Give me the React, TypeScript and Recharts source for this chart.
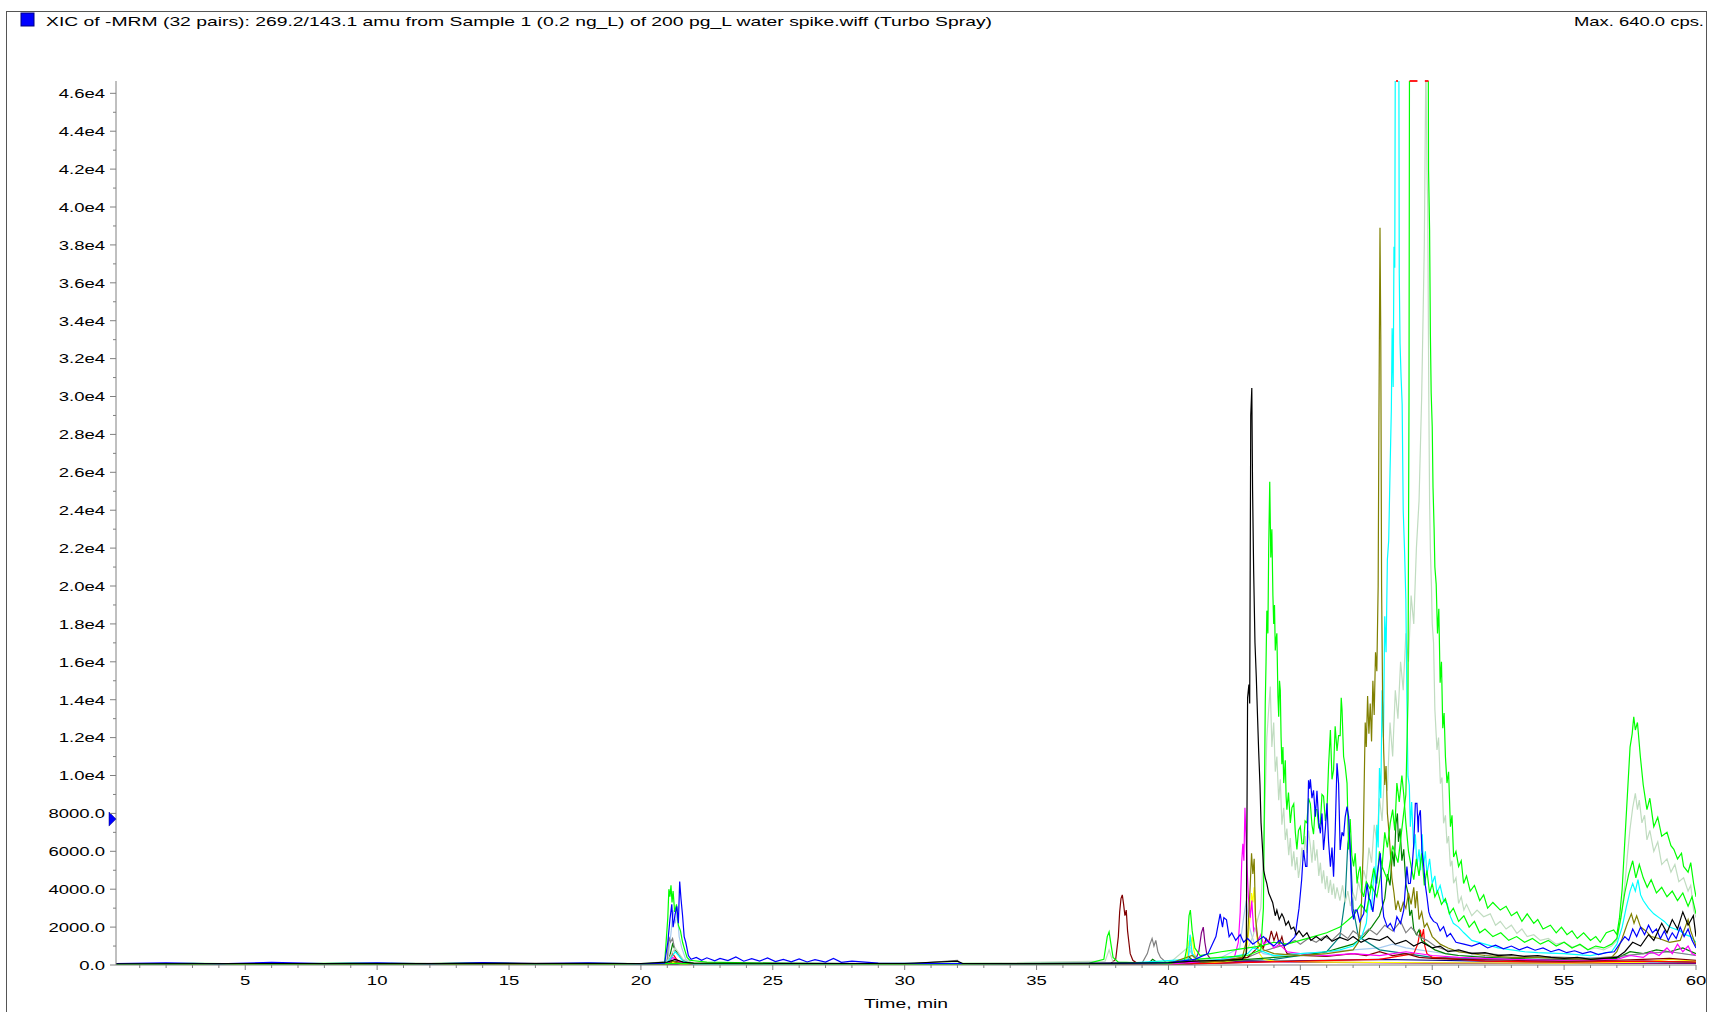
import { LineChart, Line, XAxis, YAxis, ReferenceDot, ReferenceLine } from "recharts";

type Pt = [number, number];

// XIC traces, [time (min), intensity (cps)]
const black: Pt[] = [[0.1,60],[5,80],[10,70],[15,90],[20,80],[21,150],[21.3,300],[21.6,150],[22,100],[25,90],[30,80],[32,200],[32.2,80],[35,70],[38,100],[40,120],[41,200],[42,250],[42.8,300],[42.95,600],[43.0,14100],[43.05,14800],[43.08,13800],[43.12,29000],[43.16,30450],[43.19,25000],[43.23,20800],[43.28,17000],[43.33,15200],[43.38,13000],[43.42,11300],[43.47,9500],[43.51,7500],[43.56,6300],[43.61,5000],[43.67,4600],[43.73,4300],[43.8,3800],[43.86,3600],[43.95,3300],[44.05,2600],[44.11,2900],[44.2,2400],[44.3,2700],[44.37,2500],[44.45,2100],[44.55,2300],[44.65,1900],[44.75,2000],[44.85,1600],[44.95,1800],[45.1,1500],[45.25,1700],[45.4,1300],[45.6,1500],[45.8,1300],[46,1550],[46.2,1250],[46.5,1450],[46.8,1300],[47,1500],[47.3,1200],[47.6,1400],[48,1300],[48.3,1500],[48.6,1100],[49,1300],[49.3,1000],[49.6,1200],[50,900],[50.3,1000],[50.6,700],[51,800],[51.5,600],[52,650],[52.5,500],[53,550],[53.5,450],[54,500],[54.5,400],[55,350],[55.5,400],[56,300],[56.5,350],[57,400],[57.3,700],[57.6,1200],[57.9,1000],[58.2,1600],[58.4,1300],[58.7,2200],[58.9,1700],[59.1,2400],[59.3,1900],[59.5,2800],[59.7,2100],[59.9,2600],[60,1500]];

const greenA: Pt[] = [[0.1,40],[3,90],[6,60],[9,100],[12,70],[14,120],[16,60],[18,90],[20,70],[20.9,100],[21.02,2500],[21.06,4000],[21.1,3600],[21.14,4200],[21.18,3300],[21.22,3900],[21.28,2800],[21.35,3200],[21.42,2100],[21.5,1800],[21.58,1200],[21.66,800],[21.75,400],[21.85,250],[22.5,150],[25,100],[28,80],[31,90],[34,70],[37,100],[37.55,300],[37.68,1500],[37.75,1750],[37.82,1100],[37.9,400],[38.1,150],[39,120],[40,150],[40.6,200],[40.7,900],[40.78,2600],[40.83,2900],[40.9,1800],[41.0,900],[41.2,500],[41.6,600],[42,700],[42.5,800],[43,900],[43.5,1000],[44,1200],[44.5,1100],[45,1300],[45.5,1500],[46,1700],[46.5,2000],[47,2600],[47.3,3200],[47.5,2800],[47.7,4200],[47.9,3600],[48.1,5200],[48.3,4500],[48.5,6300],[48.7,5400],[48.9,7800],[49.0,9000],[49.08,14000],[49.12,30000],[49.15,60000],[49.5,60000],[49.83,60000],[49.86,42000],[49.9,38800],[49.93,33300],[49.96,30200],[50.0,28400],[50.03,25200],[50.07,23100],[50.1,21000],[50.15,20100],[50.2,17500],[50.25,18800],[50.3,14900],[50.35,16000],[50.4,12500],[50.45,13300],[50.5,11000],[50.56,9600],[50.62,10200],[50.69,7300],[50.75,7900],[50.81,5700],[50.9,6000],[51.0,5200],[51.1,5500],[51.19,4300],[51.3,4700],[51.44,3900],[51.6,4200],[51.8,3400],[51.95,3700],[52.1,3000],[52.3,3300],[52.58,2900],[52.8,3100],[53,2600],[53.21,2800],[53.4,2300],[53.6,2700],[53.85,2200],[54,2400],[54.2,1900],[54.48,2100],[54.7,1700],[54.9,2000],[55.11,1600],[55.3,1800],[55.5,1400],[55.74,1700],[56,1300],[56.2,1500],[56.37,1200],[56.6,1700],[56.88,1850],[57.0,1600],[57.1,2500],[57.2,4000],[57.3,6500],[57.4,9000],[57.5,11500],[57.58,12200],[57.64,13100],[57.7,12400],[57.78,12800],[57.89,11000],[58.0,9500],[58.14,8200],[58.25,8800],[58.4,7300],[58.55,7800],[58.7,6800],[58.9,7000],[59.05,6300],[59.16,6100],[59.3,5600],[59.45,5900],[59.53,5200],[59.7,4900],[59.8,5400],[59.91,4300],[60,3600]];

const greenB: Pt[] = [[0.1,30],[5,60],[10,40],[15,70],[20,50],[21,80],[25,60],[30,50],[35,60],[40,90],[41,300],[42,400],[43,500],[43.5,800],[43.6,3000],[43.64,9000],[43.67,13800],[43.7,16000],[43.73,18700],[43.77,17500],[43.8,22000],[43.84,25500],[43.88,21500],[43.92,23000],[43.96,19500],[43.99,18000],[44.02,19000],[44.05,16600],[44.08,17200],[44.11,17500],[44.15,14200],[44.18,13100],[44.21,15000],[44.24,14500],[44.27,12000],[44.3,10600],[44.34,11500],[44.37,9600],[44.4,10200],[44.43,10800],[44.46,8900],[44.49,8200],[44.55,9100],[44.62,7500],[44.68,8300],[44.75,8500],[44.81,7000],[44.87,6100],[44.93,7100],[45.0,7300],[45.06,6400],[45.12,6400],[45.18,7600],[45.25,7500],[45.31,8800],[45.38,8500],[45.44,7400],[45.5,6900],[45.56,8200],[45.63,8200],[45.7,7200],[45.76,7500],[45.82,9000],[45.88,8900],[45.95,7600],[46.01,8200],[46.07,10500],[46.14,12400],[46.2,9800],[46.26,10300],[46.32,12600],[46.39,11300],[46.45,12100],[46.51,12100],[46.55,14100],[46.58,13500],[46.64,11000],[46.7,10500],[46.77,9600],[46.83,6100],[46.89,7700],[46.95,5800],[47.02,5200],[47.08,5900],[47.15,4300],[47.21,4900],[47.27,5200],[47.33,3900],[47.4,3600],[47.5,4400],[47.65,4000],[47.78,5100],[47.9,4300],[48.0,6000],[48.1,5200],[48.2,7000],[48.3,6200],[48.41,7500],[48.5,8200],[48.58,7100],[48.66,9600],[48.75,8600],[48.85,10000],[48.92,9000],[49.0,7500],[49.1,6000],[49.2,5200],[49.3,4500],[49.4,5600],[49.5,4700],[49.6,5900],[49.7,4200],[49.8,5000],[49.9,3800],[50.0,4300],[50.1,3600],[50.2,3900],[50.35,3200],[50.5,3500],[50.65,2700],[50.8,3000],[51.0,2300],[51.2,2600],[51.4,2000],[51.6,2300],[51.8,1700],[52.0,1900],[52.3,1500],[52.6,1700],[52.9,1300],[53.2,1500],[53.5,1200],[53.8,1400],[54.1,1100],[54.4,1300],[54.7,1000],[55.0,1200],[55.3,900],[55.6,1100],[55.9,800],[56.2,1000],[56.5,900],[56.8,1100],[57.0,1400],[57.15,2500],[57.3,3800],[57.45,4800],[57.6,5500],[57.72,4600],[57.85,5300],[58.0,4600],[58.15,4100],[58.3,4500],[58.5,3800],[58.7,4100],[58.9,3600],[59.1,3900],[59.3,3400],[59.5,3800],[59.7,3100],[59.85,3600],[60,2700]];

const paleGreen: Pt[] = [[0.1,20],[10,40],[20,30],[21,200],[21.3,900],[21.6,300],[22,60],[30,40],[37.6,200],[37.75,800],[37.9,150],[40,60],[40.8,1000],[41,300],[42,300],[42.9,500],[43.2,1500],[43.5,3000],[43.6,6000],[43.67,9000],[43.73,12000],[43.8,13500],[43.86,14700],[43.92,11500],[43.99,12800],[44.05,10200],[44.11,11000],[44.18,8700],[44.24,9800],[44.3,7400],[44.37,8300],[44.43,6600],[44.49,7200],[44.56,5800],[44.62,6700],[44.68,5200],[44.75,6000],[44.81,5000],[44.87,5700],[44.93,4600],[45.0,5300],[45.06,6200],[45.12,5500],[45.18,6800],[45.25,5900],[45.31,7100],[45.38,6300],[45.44,5400],[45.5,6600],[45.56,5500],[45.63,6100],[45.7,4700],[45.76,5400],[45.82,4300],[45.88,5000],[45.95,4000],[46.01,4700],[46.07,3800],[46.14,4500],[46.2,3700],[46.26,4300],[46.32,3500],[46.39,4100],[46.5,3400],[46.6,4200],[46.7,3300],[46.8,3900],[46.9,3100],[47.0,3800],[47.1,3400],[47.2,4400],[47.3,3800],[47.4,5000],[47.5,4500],[47.6,6200],[47.7,5400],[47.8,7400],[47.9,6500],[48.0,8800],[48.1,7600],[48.2,10500],[48.3,9200],[48.4,12800],[48.5,11000],[48.6,14500],[48.7,13000],[48.8,16000],[48.9,14500],[49.0,17500],[49.1,16000],[49.2,19500],[49.3,18000],[49.4,22000],[49.5,24500],[49.6,30000],[49.7,38000],[49.76,48000],[49.8,42000],[49.83,40000],[49.87,30000],[49.9,24500],[49.93,21900],[49.97,20000],[50.0,18030],[50.05,17000],[50.1,13500],[50.18,11345],[50.24,12000],[50.31,9570],[50.37,9900],[50.43,7480],[50.5,7900],[50.56,6420],[50.62,6800],[50.69,5200],[50.75,5500],[50.81,4310],[50.9,4600],[51.0,3250],[51.1,3600],[51.2,2900],[51.3,3200],[51.5,2600],[51.7,2900],[51.95,2550],[52.2,2700],[52.4,2100],[52.58,2300],[52.8,1900],[53.0,2100],[53.21,1670],[53.4,1900],[53.6,1500],[53.85,1600],[54.1,1300],[54.4,1400],[54.7,1100],[55.0,1200],[55.3,950],[55.6,1050],[55.9,800],[56.2,900],[56.5,800],[56.8,1000],[57.0,1300],[57.15,2400],[57.3,4200],[57.4,5800],[57.5,7200],[57.6,8300],[57.7,9060],[57.78,8200],[57.85,8700],[57.95,7500],[58.05,7900],[58.14,6600],[58.25,7100],[58.4,6000],[58.55,6500],[58.7,5300],[58.9,5600],[59.05,4900],[59.2,5300],[59.35,4400],[59.53,4600],[59.7,3900],[59.8,4200],[59.91,2900],[60,2500]];

const cyan: Pt[] = [[0.1,30],[10,50],[20,40],[20.95,40],[21.1,300],[21.3,700],[21.6,200],[22,50],[30,40],[38,60],[40.75,300],[40.82,1600],[40.9,600],[41.2,200],[42,300],[43,600],[43.2,900],[44,500],[45,600],[46,700],[46.5,800],[47,1000],[47.3,1400],[47.5,2200],[47.6,3600],[47.7,2900],[47.8,5200],[47.85,4300],[47.9,7400],[47.95,6200],[48.0,10400],[48.05,8800],[48.1,14500],[48.15,12000],[48.2,18400],[48.25,16500],[48.3,21400],[48.35,22400],[48.4,26000],[48.45,29300],[48.48,33600],[48.52,30500],[48.55,37900],[48.58,36800],[48.62,60000],[48.72,60000],[48.75,36500],[48.78,32800],[48.82,31000],[48.86,29600],[48.9,24000],[48.95,21900],[49.0,19300],[49.04,14000],[49.08,9950],[49.13,9500],[49.17,7300],[49.22,8600],[49.3,6100],[49.36,6900],[49.42,5200],[49.5,6100],[49.56,5000],[49.62,6900],[49.67,5200],[49.74,6000],[49.8,4800],[49.9,5600],[50.0,4300],[50.1,4700],[50.18,3800],[50.3,4200],[50.43,3400],[50.56,3250],[50.69,2550],[50.8,2200],[51.0,2000],[51.2,1700],[51.5,1300],[52,1100],[52.5,900],[53,800],[53.5,700],[54,650],[55,600],[56,500],[56.8,700],[57.0,1100],[57.2,2000],[57.35,3000],[57.5,3900],[57.6,4300],[57.7,3900],[57.8,4500],[57.9,3700],[58.0,3400],[58.2,3000],[58.4,2700],[58.6,2500],[58.8,2300],[59.0,2000],[59.2,1900],[59.4,1800],[59.6,1600],[59.8,1500],[60,1200]];

const olive: Pt[] = [[0.1,20],[10,30],[20,30],[21.0,30],[21.2,200],[21.5,100],[30,40],[40,60],[40.9,500],[41.2,200],[42,200],[42.8,400],[43.0,1500],[43.1,4200],[43.15,5900],[43.2,4800],[43.25,5600],[43.3,2500],[43.4,1200],[43.6,800],[44,600],[45,500],[46,600],[47,800],[47.2,1200],[47.3,2500],[47.38,6000],[47.42,9500],[47.46,12800],[47.5,11500],[47.55,14200],[47.6,12200],[47.65,13800],[47.7,11800],[47.75,15000],[47.8,13200],[47.85,16500],[47.9,15500],[47.95,20000],[47.98,29000],[48.02,38900],[48.05,33000],[48.08,20000],[48.12,14000],[48.16,11300],[48.2,9500],[48.25,10500],[48.3,8000],[48.35,7200],[48.41,6000],[48.47,4600],[48.55,3800],[48.62,2900],[48.7,3400],[48.8,2800],[48.9,3300],[49.0,3000],[49.1,3800],[49.2,3200],[49.3,4100],[49.36,3000],[49.42,3900],[49.5,2400],[49.6,2800],[49.7,2000],[49.8,2200],[50,1500],[50.3,1100],[50.6,900],[51,700],[52,500],[53,400],[54,400],[55,350],[56,300],[56.8,400],[57.0,700],[57.2,1400],[57.4,2200],[57.55,2700],[57.65,2200],[57.75,2600],[57.9,2000],[58.1,1800],[58.3,1500],[58.6,1400],[59,1200],[59.4,1300],[59.7,2400],[59.8,1800],[60,1000]];

const blue: Pt[] = [[0.1,80],[2,120],[4,60],[6,140],[8,70],[10,110],[12,60],[14,130],[16,70],[18,110],[20,60],[20.9,100],[21.02,1200],[21.1,2400],[21.17,3200],[21.22,2000],[21.3,2700],[21.36,3100],[21.42,2200],[21.47,4400],[21.52,3500],[21.58,2600],[21.64,1500],[21.7,1200],[21.8,500],[21.9,300],[22.1,400],[22.3,250],[22.5,380],[22.8,220],[23.0,350],[23.3,230],[23.6,420],[23.9,200],[24.2,330],[24.5,210],[24.8,370],[25.1,180],[25.4,300],[25.7,170],[26.0,320],[26.3,160],[26.6,280],[27.0,150],[27.3,350],[27.6,140],[28,200],[29,100],[31,80],[34,70],[37,90],[39,100],[40,130],[41,300],[41.5,600],[41.8,1500],[41.96,2700],[42.05,2000],[42.1,2500],[42.2,2380],[42.3,1500],[42.4,1700],[42.55,1300],[42.72,1600],[42.85,1200],[43.0,1400],[43.2,1100],[43.4,1300],[43.6,1500],[43.8,1200],[44,1000],[44.2,1300],[44.4,1000],[44.6,1200],[44.8,1500],[44.95,3000],[45.05,4500],[45.12,6070],[45.2,5200],[45.25,5200],[45.31,9750],[45.35,9300],[45.38,9800],[45.44,8800],[45.5,9220],[45.57,7830],[45.63,9200],[45.7,7500],[45.76,6950],[45.82,8000],[45.88,6070],[45.95,7200],[46.01,8530],[46.07,6500],[46.14,5190],[46.2,6200],[46.26,4660],[46.32,7000],[46.39,10640],[46.45,9570],[46.51,6070],[46.58,7000],[46.64,6800],[46.7,7800],[46.77,8360],[46.83,7830],[46.89,6070],[46.96,2900],[47.02,2400],[47.08,2900],[47.15,2900],[47.25,2300],[47.4,2700],[47.53,4300],[47.6,3500],[47.65,3430],[47.75,2800],[47.9,4660],[48.03,5900],[48.1,3500],[48.16,2550],[48.3,2000],[48.41,2200],[48.55,1800],[48.66,2550],[48.8,2200],[48.92,2900],[49.04,5190],[49.1,4300],[49.17,4310],[49.25,5400],[49.3,6400],[49.36,8530],[49.42,8530],[49.47,7000],[49.49,7830],[49.55,8170],[49.61,6070],[49.68,5190],[49.74,4200],[49.8,3600],[49.87,2800],[49.93,2550],[50.05,2300],[50.18,2200],[50.3,1800],[50.43,2020],[50.56,1500],[50.69,1670],[50.9,1200],[51.2,1100],[51.5,1000],[51.8,1150],[52.1,900],[52.4,1050],[52.7,850],[53.0,1000],[53.3,800],[53.6,950],[53.9,780],[54.2,900],[54.5,700],[54.8,820],[55.1,650],[55.4,750],[55.7,600],[56.0,700],[56.3,550],[56.6,650],[56.9,700],[57.1,1100],[57.3,1500],[57.45,1300],[57.6,1900],[57.75,1500],[57.9,2000],[58.05,1600],[58.2,2100],[58.35,1700],[58.5,1900],[58.65,1400],[58.8,1800],[58.95,1300],[59.1,1700],[59.25,1400],[59.4,2000],[59.55,1500],[59.7,1900],[59.85,1300],[60,900]];

const magenta: Pt[] = [[0.1,10],[20,20],[21.0,20],[21.2,400],[21.5,150],[22,30],[30,20],[40,40],[41,150],[42,300],[42.5,400],[42.65,1200],[42.72,2800],[42.78,5500],[42.82,6400],[42.86,5500],[42.9,8300],[42.94,6800],[42.98,5200],[43.03,3600],[43.1,2500],[43.16,3400],[43.23,1800],[43.3,2000],[43.4,1300],[43.5,1600],[43.6,1100],[43.8,1300],[44,900],[44.2,1100],[44.5,700],[45,600],[46,500],[47,600],[48,500],[49,700],[50,500],[51,400],[53,300],[55,250],[57,300],[57.5,500],[58,400],[58.3,700],[58.6,500],[58.9,900],[59.1,600],[59.3,1100],[59.5,700],[59.7,1000],[59.85,600],[60,500]];

const maroon: Pt[] = [[0.1,20],[20,30],[21.0,30],[21.2,200],[21.5,80],[25,40],[30,30],[35,40],[37.8,60],[38.0,300],[38.1,1500],[38.15,2800],[38.2,3500],[38.25,3700],[38.3,3200],[38.35,2600],[38.4,2900],[38.45,1800],[38.5,1200],[38.55,600],[38.65,250],[38.8,100],[40,80],[41,150],[42,200],[43,400],[43.3,800],[43.5,1100],[43.6,900],[43.7,1400],[43.8,1200],[43.9,1800],[44.0,1300],[44.1,1700],[44.2,1100],[44.3,1500],[44.4,900],[44.5,600],[45,500],[46,450],[47,600],[47.5,500],[48,700],[48.5,500],[49,600],[49.5,400],[50,350],[51,300],[53,250],[55,200],[57,250],[58,300],[59,350],[60,250]];

const grey: Pt[] = [[0.1,30],[10,40],[20,30],[20.95,30],[21.0,300],[21.06,1500],[21.12,1200],[21.2,1400],[21.3,700],[21.45,500],[21.6,250],[22,60],[30,40],[32,250],[32.1,60],[35,50],[39.0,100],[39.2,600],[39.3,1100],[39.38,1400],[39.45,1000],[39.52,1300],[39.6,700],[39.7,400],[39.9,150],[40.5,100],[41,200],[42,300],[43,400],[43.5,700],[44,900],[44.5,1100],[44.8,1300],[45.0,1100],[45.3,1400],[45.6,1200],[45.9,1500],[46.2,1300],[46.5,1700],[46.8,1400],[47.0,1800],[47.3,1500],[47.6,1900],[47.9,1600],[48.2,2100],[48.5,1800],[48.8,2300],[49.0,1700],[49.2,2000],[49.5,1500],[49.8,1300],[50.1,1000],[50.5,800],[51,700],[52,600],[53,500],[54,450],[55,400],[56,350],[57,450],[58,600],[59,700],[60,500]];

const darkGreen: Pt[] = [[0.1,20],[20,30],[21.0,30],[21.1,500],[21.2,1100],[21.3,800],[21.5,400],[21.7,150],[22,40],[30,30],[39.2,30],[39.4,300],[39.6,100],[40.6,60],[40.8,400],[41,150],[42,200],[43,300],[44,400],[45,500],[46,700],[46.5,900],[47,1100],[47.4,1500],[47.7,2000],[48.0,2600],[48.2,3500],[48.3,4800],[48.4,4200],[48.5,6000],[48.56,5200],[48.62,7400],[48.68,8000],[48.72,6500],[48.78,7200],[48.85,5500],[48.92,6100],[49.0,4300],[49.08,3800],[49.15,2600],[49.22,2900],[49.3,1900],[49.4,1600],[49.5,1850],[49.6,1300],[49.8,1100],[50.1,800],[50.5,600],[51,500],[52,400],[54,300],[56,300],[57,350],[57.5,700],[58,600],[58.5,800],[59,700],[59.5,900],[60,600]];

const yellow: Pt[] = [[0.1,10],[20,20],[21.0,20],[21.2,150],[21.5,40],[30,20],[40,30],[40.6,30],[40.7,400],[40.78,1300],[40.84,1000],[40.9,1500],[40.96,800],[41.05,300],[41.3,100],[42,150],[42.9,300],[43.0,1200],[43.1,2600],[43.15,3800],[43.2,3300],[43.25,4100],[43.3,2600],[43.35,1500],[43.45,600],[43.6,300],[44,200],[46,150],[50,120],[55,100],[58,150],[59,300],[60,200]];

const purple: Pt[] = [[0.1,10],[20,20],[30,20],[40,40],[40.9,60],[41.0,200],[41.15,700],[41.25,1700],[41.32,2000],[41.38,1200],[41.45,600],[41.6,300],[41.8,150],[43,200],[45,150],[50,100],[55,100],[60,80]];

const red: Pt[] = [[0.1,10],[10,20],[20,20],[21.05,20],[21.2,600],[21.4,200],[22,30],[30,20],[40,30],[45,200],[48,300],[49.3,600],[49.45,1100],[49.55,1850],[49.6,1400],[49.67,1900],[49.72,1000],[49.8,600],[50,400],[52,200],[55,150],[58,200],[60,150]];

const lightBlue: Pt[] = [[0.1,20],[20,30],[20.95,30],[21.05,600],[21.15,1800],[21.22,2900],[21.3,2200],[21.38,2800],[21.45,1500],[21.55,900],[21.7,300],[22,60],[30,40],[40,50],[40.7,60],[40.8,800],[41,300],[42,400],[42.7,900],[42.85,2500],[42.95,3400],[43.05,2100],[43.15,1600],[43.3,900],[43.6,600],[44,500],[45,600],[46,700],[47,800],[48,900],[48.5,1100],[49,900],[49.5,800],[50,700],[51,500],[53,400],[55,350],[57,400],[58,600],[59,700],[60,500]];

const teal: Pt[] = [[0.1,10],[20,10],[30,10],[40,20],[44,300],[45,500],[46,700],[46.5,1500],[46.7,3500],[46.8,6400],[46.86,6900],[46.92,5400],[47.0,3000],[47.2,1500],[48,800],[49,600],[50,400],[55,200],[60,150]];

const navy: Pt[] = [[0.1,20],[10,30],[20,20],[21.0,20],[21.3,200],[22,30],[30,20],[40,40],[42,100],[44,200],[46,250],[48,300],[50,250],[52,200],[54,150],[56,150],[58,200],[60,150]];

// detector saturation flags along the top edge (time ranges)
const saturatedRanges: Pt[] = [[48.63, 48.7], [49.14, 49.44], [49.72, 49.86]];

const thresholdLevel = 7700;
const yMax = 46650;
const xMin = 0.1;
const xMax = 60;

const yMajorTicks = [0, 2000, 4000, 6000, 8000, 10000, 12000, 14000, 16000, 18000, 20000, 22000, 24000, 26000, 28000, 30000, 32000, 34000, 36000, 38000, 40000, 42000, 44000, 46000];
const xMajorTicks = [5, 10, 15, 20, 25, 30, 35, 40, 45, 50, 55, 60];
const yAllTicks = Array.from({ length: 47 }, (_, i) => i * 1000);
const xAllTicks = Array.from({ length: 60 }, (_, i) => i + 1);

const traces = [
  { key: "navy", color: "#000080", pts: navy },
  { key: "lightBlue", color: "#a6caf0", pts: lightBlue },
  { key: "teal", color: "#008080", pts: teal },
  { key: "purple", color: "#800080", pts: purple },
  { key: "yellow", color: "#ffff00", pts: yellow },
  { key: "red", color: "#ff0000", pts: red },
  { key: "darkGreen", color: "#008000", pts: darkGreen },
  { key: "grey", color: "#808080", pts: grey },
  { key: "maroon", color: "#800000", pts: maroon },
  { key: "magenta", color: "#ff00ff", pts: magenta },
  { key: "paleGreen", color: "#c0dcc0", pts: paleGreen },
  { key: "cyan", color: "#00ffff", pts: cyan },
  { key: "olive", color: "#808000", pts: olive },
  { key: "greenB", color: "#00ff00", pts: greenB },
  { key: "greenA", color: "#00ff00", pts: greenA },
  { key: "blue", color: "#0000ff", pts: blue },
  { key: "black", color: "#000000", pts: black },
];

const FONT = '"Liberation Sans", Arial, sans-serif';
const STRETCH = 1.37;
const AXIS = "#808080";

function yLabel(v: number): string {
  if (v < 10000) return `${v}.0`;
  return `${(v / 10000).toFixed(1)}e4`;
}

function renderYTick(props: any) {
  const { x, y, payload } = props;
  const v = payload.value as number;
  const major = yMajorTicks.includes(v);
  return (
    <g key={`yt-${v}`}>
      <line x1={x - (major ? 6 : 3)} x2={x} y1={y} y2={y} stroke={AXIS} />
      {major ? (
        <text
          transform={`translate(${x - 11},${y}) scale(${STRETCH},1)`}
          textAnchor="end"
          dy="0.36em"
          fontSize={13.5}
          fontFamily={FONT}
          fill="#000"
        >
          {yLabel(v)}
        </text>
      ) : null}
    </g>
  );
}

function renderXTick(props: any) {
  const { x, y, payload } = props;
  const v = payload.value as number;
  const major = xMajorTicks.includes(v);
  return (
    <g key={`xt-${v}`}>
      <line x1={x} x2={x} y1={y} y2={y + (major ? 5 : 3)} stroke={AXIS} />
      {major ? (
        <text
          transform={`translate(${x},${y + 20}) scale(${STRETCH},1)`}
          textAnchor="middle"
          fontSize={13.5}
          fontFamily={FONT}
          fill="#000"
        >
          {v}
        </text>
      ) : null}
    </g>
  );
}

const toRows = (pts: Pt[]) => pts.map(([t, v]) => ({ t, v }));

export default function App() {
  return (
    <div style={{ position: "absolute", left: 0, top: 0, width: 1709, height: 1012, background: "#fff", overflow: "hidden" }}>
      <LineChart width={1709} height={1012} margin={{ top: 81, right: 13, left: 6, bottom: 7 }}>
        <XAxis
          type="number"
          dataKey="t"
          domain={[xMin, xMax]}
          allowDataOverflow
          ticks={xAllTicks}
          interval={0}
          tickSize={0}
          tickMargin={0}
          tickLine={false}
          tick={renderXTick}
          height={40}
          axisLine={{ stroke: AXIS }}
        />
        <YAxis
          type="number"
          domain={[0, yMax]}
          allowDataOverflow
          ticks={yAllTicks}
          interval={0}
          tickSize={0}
          tickMargin={0}
          tickLine={false}
          tick={renderYTick}
          width={110}
          axisLine={{ stroke: AXIS }}
        />
        {traces.map((tr) => (
          <Line
            key={tr.key}
            data={toRows(tr.pts)}
            dataKey="v"
            type="linear"
            stroke={tr.color}
            strokeWidth={1.2}
            dot={false}
            activeDot={false}
            isAnimationActive={false}
          />
        ))}
        {saturatedRanges.map(([a, b], i) => (
          <ReferenceLine
            key={i}
            segment={[{ x: a, y: yMax }, { x: b, y: yMax }]}
            stroke="#ff2020"
            strokeWidth={2}
          />
        ))}
        <ReferenceDot
          x={xMin}
          y={thresholdLevel}
          shape={(p: any) => (
            <polygon
              points={`${p.cx - 7},${p.cy - 7} ${p.cx},${p.cy} ${p.cx - 7},${p.cy + 7}`}
              fill="#0000ff"
              stroke="#000080"
              strokeWidth={0.5}
            />
          )}
        />
      </LineChart>
      <svg width={1709} height={1012} style={{ position: "absolute", left: 0, top: 0, pointerEvents: "none" }}>
        <rect x={6.5} y={11.5} width={1700} height={1010} fill="none" stroke="#555" />
        <rect x={21} y={13} width={13} height={13} fill="#0000ff" stroke="#000080" />
        <text x={46} y={26} fontSize={13.5} fontFamily={FONT} fill="#000" textLength={946} lengthAdjust="spacingAndGlyphs">
          XIC of -MRM (32 pairs): 269.2/143.1 amu from Sample 1 (0.2 ng_L) of 200 pg_L water spike.wiff (Turbo Spray)
        </text>
        <text x={1574} y={26} fontSize={13.5} fontFamily={FONT} fill="#000" textLength={130} lengthAdjust="spacingAndGlyphs">
          Max. 640.0 cps.
        </text>
        <text x={864} y={1008} fontSize={13.5} fontFamily={FONT} fill="#000" textLength={84} lengthAdjust="spacingAndGlyphs">
          Time, min
        </text>
      </svg>
    </div>
  );
}
